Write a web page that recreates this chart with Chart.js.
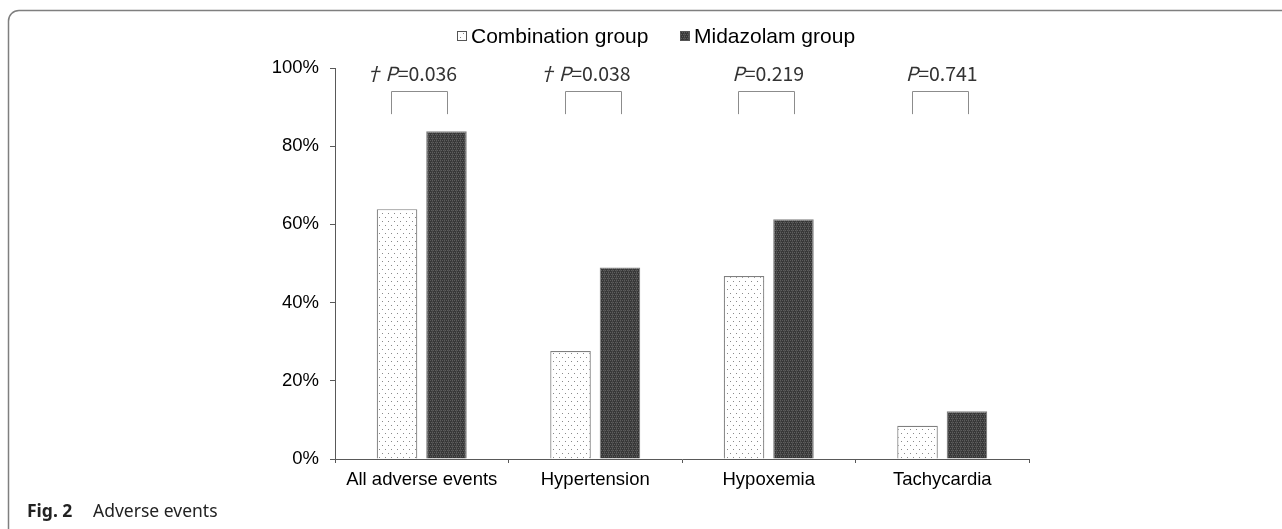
<!DOCTYPE html>
<html>
<head>
<meta charset="utf-8">
<script src="https://cdn.jsdelivr.net/npm/chart.js@4/dist/chart.umd.min.js"></script>
<style>
html,body{margin:0;padding:0;background:#fff;}
#wrap{width:1282px;height:529px;position:relative;}
</style>
</head>
<body>
<div id="wrap"><canvas id="c" width="1282" height="529"></canvas></div>
<script>
const categories = ['All adverse events', 'Hypertension', 'Hypoxemia', 'Tachycardia'];
const combination = [63.9, 27.6, 46.8, 8.5];
const midazolam = [83.8, 49.0, 61.3, 12.2];
const pValues = ['0.036', '0.038', '0.219', '0.741'];
const dagger = [true, true, false, false];
const seriesNames = ['Combination group', 'Midazolam group'];
const yTickStep = 20;
const yMax = 100;

function makeDotPattern() {
  const t = document.createElement('canvas');
  t.width = 6; t.height = 8;
  const g = t.getContext('2d');
  g.fillStyle = '#ffffff'; g.fillRect(0, 0, 6, 8);
  g.fillStyle = '#8a8a8a';
  g.fillRect(1, 1, 1, 1);
  g.fillRect(4, 5, 1, 1);
  return g.createPattern(t, 'repeat');
}
function makeDarkPattern() {
  const t = document.createElement('canvas');
  t.width = 4; t.height = 4;
  const g = t.getContext('2d');
  g.fillStyle = '#383838'; g.fillRect(0, 0, 4, 4);
  g.fillStyle = '#5e5e5e';
  g.fillRect(0, 0, 1, 1); g.fillRect(2, 0, 1, 1);
  g.fillRect(1, 2, 1, 1); g.fillRect(3, 2, 1, 1);
  g.fillStyle = '#4a4a4a';
  g.fillRect(0, 1, 1, 3);
  return g.createPattern(t, 'repeat');
}
const patA = makeDotPattern();
const patB = makeDarkPattern();

const decor = {
  id: 'decor',
  afterDraw(chart) {
    const ctx = chart.ctx;
    const x = chart.scales.x, y = chart.scales.y;
    ctx.save();
    // frame
    ctx.strokeStyle = '#7f7f7f';
    ctx.lineWidth = 1.5;
    ctx.beginPath();
    ctx.moveTo(8.5, 529);
    ctx.lineTo(8.5, 21);
    ctx.arcTo(8.5, 10.5, 19, 10.5, 10.5);
    ctx.lineTo(1282, 10.5);
    ctx.stroke();
    // caption
    ctx.fillStyle = '#222';
    ctx.textBaseline = 'alphabetic';
    ctx.textAlign = 'left';
    ctx.font = 'bold 17.5px "Noto Sans"';
    ctx.fillText('Fig. 2', 27, 517);
    ctx.font = '17.5px "Noto Sans"';
    ctx.fillText('Adverse events', 93, 517);
    // legend
    const pats = [patA, patB];
    const lx = [457, 680];
    ctx.font = '21px "Liberation Sans"';
    ctx.textBaseline = 'middle';
    for (let i = 0; i < 2; i++) {
      ctx.fillStyle = pats[i];
      ctx.fillRect(lx[i], 31, 10, 10);
      ctx.strokeStyle = '#555';
      ctx.lineWidth = 1;
      ctx.strokeRect(lx[i] + 0.5, 31.5, 9, 9);
      ctx.fillStyle = '#000';
      ctx.fillText(seriesNames[i], lx[i] + 14, 37);
    }
    // p-value brackets
    ctx.strokeStyle = '#8c8c8c';
    ctx.lineWidth = 1;
    const yTop = Math.round(y.getPixelForValue(94)) + 0.5;
    const yBot = y.getPixelForValue(88.2);
    for (let i = 0; i < categories.length; i++) {
      const cx = x.getPixelForValue(i) - 2.5;
      const l = Math.round(cx - 28) + 0.5, r = Math.round(cx + 28) + 0.5;
      ctx.beginPath();
      ctx.moveTo(l, yBot); ctx.lineTo(l, yTop); ctx.lineTo(r, yTop); ctx.lineTo(r, yBot);
      ctx.stroke();
      // text
      const ty = y.getPixelForValue(98.6);
      ctx.fillStyle = '#333';
      ctx.textBaseline = 'middle';
      ctx.font = 'italic 19.5px "Noto Sans CJK JP"';
      const pw = ctx.measureText('P').width;
      ctx.font = '19.5px "Noto Sans CJK JP"';
      const rest = '=' + pValues[i];
      const rw = ctx.measureText(rest).width;
      const total = pw + rw;
      let sx = cx - total / 2 + 2;
      if (dagger[i]) {
        ctx.textAlign = 'right';
        ctx.font = 'italic 19.5px "Noto Sans CJK JP"';
        ctx.fillText('†', sx - 2, ty);
      }
      ctx.textAlign = 'left';
      ctx.font = 'italic 19.5px "Noto Sans CJK JP"';
      ctx.fillText('P', sx, ty);
      ctx.font = '19.5px "Noto Sans CJK JP"';
      ctx.fillText(rest, sx + pw, ty);
    }
    ctx.restore();
  }
};

new Chart(document.getElementById('c'), {
  type: 'bar',
  data: {
    labels: categories,
    datasets: [
      { label: seriesNames[0], data: combination, backgroundColor: patA, borderColor: '#7f7f7f', borderWidth: 1.2 },
      { label: seriesNames[1], data: midazolam, backgroundColor: patB, borderColor: '#7f7f7f', borderWidth: 1.2 }
    ]
  },
  options: {
    responsive: false,
    animation: false,
    devicePixelRatio: 1,
    categoryPercentage: 0.57,
    barPercentage: 0.82,
    layout: { padding: { left: 0, top: 68, right: 253, bottom: 0 } },
    plugins: { legend: { display: false }, tooltip: { enabled: false } },
    scales: {
      x: {
        offset: true,
        grid: { offset: true, drawOnChartArea: false, drawTicks: true, tickLength: 4, color: '#595959' },
        border: { color: '#595959', width: 1 },
        ticks: { color: '#000', font: { family: 'Liberation Sans', size: 18.5 }, padding: 6, maxRotation: 0 },
        afterFit(s) { s.height = 70; }
      },
      y: {
        min: 0, max: yMax,
        grid: { drawOnChartArea: false, drawTicks: true, tickLength: 5, color: '#595959' },
        border: { color: '#595959', width: 1 },
        ticks: { stepSize: yTickStep, color: '#000', font: { family: 'Liberation Sans', size: 18.5 }, padding: 11, callback: v => v + '%' },
        afterFit(s) { s.width = 335; }
      }
    }
  },
  plugins: [decor]
});
</script>
</body>
</html>
